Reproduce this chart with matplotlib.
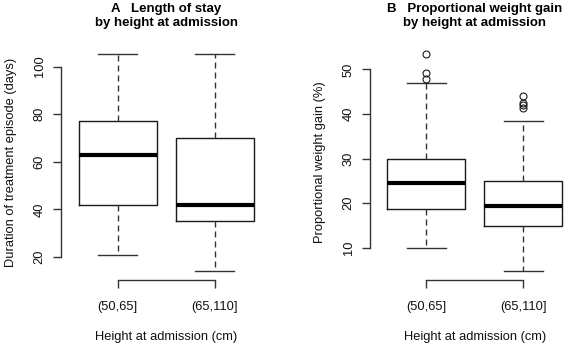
import matplotlib
matplotlib.use('Agg')
import matplotlib.pyplot as plt
import numpy as np

plt.rcParams['font.family'] = ['Liberation Sans', 'DejaVu Sans']

groups = ['(50,65]', '(65,110]']

# length of stay (days)
stay_whislo = [21, 14]
stay_q1 = [42, 35]
stay_med = [63, 42]
stay_q3 = [77, 70]
stay_whishi = [105.3, 105.3]
stay_fliers = [[], []]

# proportional weight gain (%)
gain_whislo = [10, 4.7]
gain_q1 = [18.6, 14.8]
gain_med = [24.6, 19.4]
gain_q3 = [29.9, 25.0]
gain_whishi = [47.0, 38.5]
gain_fliers = [[47.9, 49.1, 53.5], [41.4, 42.0, 42.5, 44.0]]

def make_stats(lo, q1, med, q3, hi, fl):
    st = []
    for ii in range(len(lo)):
        st.append(dict(whislo=lo[ii], q1=q1[ii], med=med[ii], q3=q3[ii],
                       whishi=hi[ii], fliers=fl[ii]))
    return st

def r_box(ax, stats, yticks, ylab, title):
    ax.bxp(stats, positions=[1, 2], widths=0.8, capwidths=0.4,
           showfliers=True, patch_artist=False,
           boxprops=dict(color='#1a1a1a', lw=1),
           medianprops=dict(color='black', lw=3, solid_capstyle='butt'),
           whiskerprops=dict(color='#333333', lw=1, linestyle=(0, (4.3, 2.9))),
           capprops=dict(color='#333333', lw=1),
           flierprops=dict(marker='o', markerfacecolor='none',
                           markeredgecolor='#1a1a1a', markersize=5, mew=0.8))
    vals = []
    for s in stats:
        vals += [s['whislo'], s['whishi']] + list(s['fliers'])
    lo, hi = min(vals), max(vals)
    d = (hi - lo) * 0.04
    ax.set_ylim(lo - d, hi + d)
    ax.set_xlim(0.42, 2.58)
    for sp in ['top', 'right']:
        ax.spines[sp].set_visible(False)
    ax.spines['left'].set_bounds(yticks[0], yticks[-1])
    ax.spines['bottom'].set_bounds(1, 2)
    for sp in ['left', 'bottom']:
        ax.spines[sp].set_color('#333333')
        ax.spines[sp].set_linewidth(1)
    ax.set_yticks(yticks)
    ax.set_yticklabels([str(t) for t in yticks], rotation=90, va='center')
    ax.set_xticks([1, 2])
    ax.set_xticklabels(groups)
    ax.tick_params(axis='both', length=6, width=1, color='#333333',
                   labelsize=9.3, labelcolor='#111111')
    ax.tick_params(axis='x', pad=9)
    ax.tick_params(axis='y', pad=5)
    ax.set_xlabel('Height at admission (cm)', fontsize=9.3, labelpad=13,
                  color='#111111')
    ax.set_ylabel(ylab, fontsize=9.3, labelpad=12, color='#111111')
    ax.set_title(title, fontsize=9.5, fontweight='bold', pad=14,
                 linespacing=1.15)

fig = plt.figure(figsize=(5.67, 3.44), dpi=100)
W, H = 567., 344.
ax1 = fig.add_axes([61 / W, (H - 280) / H, 210.5 / W, (280 - 45.2) / H])
ax2 = fig.add_axes([370 / W, (H - 280) / H, 209.5 / W, (280 - 45.2) / H])

r_box(ax1, make_stats(stay_whislo, stay_q1, stay_med, stay_q3, stay_whishi, stay_fliers),
      [20, 40, 60, 80, 100], 'Duration of treatment episode (days)',
      'A   Length of stay\nby height at admission')
r_box(ax2, make_stats(gain_whislo, gain_q1, gain_med, gain_q3, gain_whishi, gain_fliers),
      [10, 20, 30, 40, 50], 'Proportional weight gain (%)',
      'B   Proportional weight gain\nby height at admission')

fig.savefig('out.png', dpi=100)
